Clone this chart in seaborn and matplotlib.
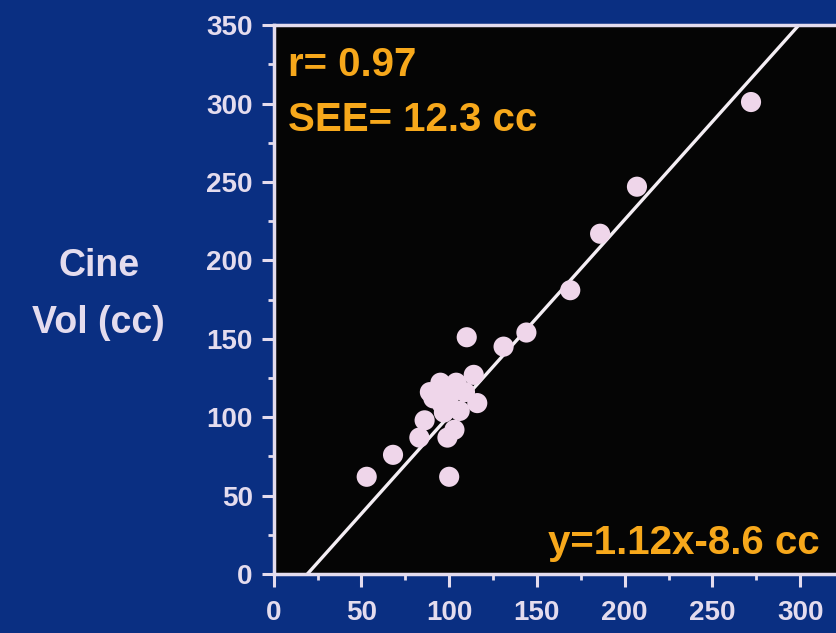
import numpy as np
import pandas as pd
import seaborn as sns
import matplotlib.pyplot as plt
from matplotlib.ticker import MultipleLocator

# ================================
# Data
# ================================

mri_vol = [53, 68, 83, 86, 89, 91, 95, 96, 97, 99, 100, 103, 104, 106, 109, 110, 114, 116,
           100, 131, 144, 169, 186, 207, 272]
cine_vol = [62, 76, 87, 98, 116, 112, 122, 108, 103, 87, 113, 92, 122, 104, 116, 151, 127, 109,
            62, 145, 154, 181, 217, 247, 301]

# regression line as drawn on the slide
line_slope = 1.25
line_intercept = -24

stats_text = ["r= 0.97", "SEE= 12.3 cc"]
eq_text = "y=1.12x-8.6 cc"
ylabel_text = "Cine\nVol (cc)"

ticks = [0, 50, 100, 150, 200, 250, 300, 350]

df = pd.DataFrame({"mri": mri_vol, "cine": cine_vol})

# ================================
# Style
# ================================

sns.set_style("dark")
plt.rcParams["font.family"] = ["Liberation Sans", "DejaVu Sans"]
plt.rcParams["font.weight"] = "bold"

bg_blue = "#0a2f82"
axis_col = "#e4dcee"
orange = "#f7a81b"
dot_col = "#efd6ea"

fig = plt.figure(figsize=(8.37, 6.33), dpi=100)
fig.patch.set_facecolor(bg_blue)

ax = fig.add_axes([0.327, 0.0932, 0.673, 0.867])
ax.set_facecolor("#050505")

# ================================
# Points + line
# ================================

sns.scatterplot(data=df, x="mri", y="cine", ax=ax, s=210, color=dot_col,
                edgecolor="none", linewidth=0, zorder=4)

line_x = np.array([0, 330])
sns.lineplot(x=line_x, y=line_slope * line_x + line_intercept, ax=ax,
             color="#f4eef4", linewidth=2.4, zorder=2)

ax.set_xlim(0, 321)
ax.set_ylim(0, 350)

# ================================
# Axes and ticks
# ================================

ax.set_xticks(ticks[:-1])
ax.set_yticks(ticks)
ax.xaxis.set_minor_locator(MultipleLocator(25))
ax.yaxis.set_minor_locator(MultipleLocator(25))
ax.grid(False)

for side in ["left", "bottom", "top"]:
    ax.spines[side].set_visible(True)
    ax.spines[side].set_color(axis_col)
    ax.spines[side].set_linewidth(2.5)
ax.spines["right"].set_visible(False)

ax.tick_params(which="major", direction="out", length=9, width=2.2,
               color=axis_col, labelcolor=axis_col, labelsize=20)
ax.tick_params(axis="x", which="major", pad=10)
ax.tick_params(axis="y", which="major", pad=6)
ax.tick_params(which="minor", direction="out", length=4, width=2,
               color=axis_col, left=True, bottom=True)
ax.tick_params(axis="both", which="both", bottom=True, left=True)

for lab in ax.get_xticklabels() + ax.get_yticklabels():
    lab.set_fontweight("bold")

ax.set_xlabel("")
ax.set_ylabel("")

# ================================
# Annotations
# ================================

ax.text(0.025, 0.927, stats_text[0], transform=ax.transAxes, color=orange,
        fontsize=29, fontweight="bold", va="center", ha="left")
ax.text(0.025, 0.827, stats_text[1], transform=ax.transAxes, color=orange,
        fontsize=29, fontweight="bold", va="center", ha="left")
ax.text(0.97, 0.056, eq_text, transform=ax.transAxes, color=orange,
        fontsize=29, fontweight="bold", va="center", ha="right")

fig.text(0.118, 0.535, ylabel_text, color=axis_col, fontsize=27,
         fontweight="bold", ha="center", va="center", linespacing=1.75)

plt.savefig("out.png", dpi=100, facecolor=fig.get_facecolor())
